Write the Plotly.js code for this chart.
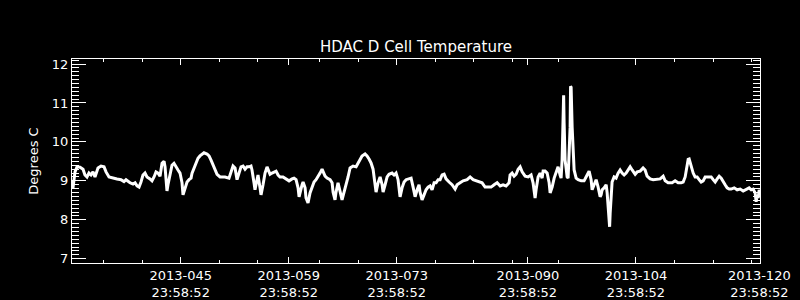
<!DOCTYPE html>
<html>
<head>
<meta charset="utf-8">
<script src="https://cdn.plot.ly/plotly-3.0.1.min.js"></script>
<style>html,body{margin:0;padding:0;background:#000;}</style>
</head>
<body>
<div id="chart" style="width:800px;height:300px;"></div>
<script>
// Day of year 2013 (fractional)
const days = [
30.91,31.04,31.30,31.56,31.95,32.34,32.59,32.85,33.11,33.37,33.63,33.89,34.28,34.67,35.06,35.32,35.71,36.22,36.74,37.26,
37.65,37.91,38.43,38.82,39.08,39.34,39.60,39.85,40.11,40.37,40.63,41.02,41.28,41.54,41.80,42.06,42.32,42.58,42.84,42.97,
43.10,43.22,43.35,43.61,43.87,44.13,44.39,44.65,44.91,45.17,45.30,45.56,45.82,46.08,46.34,46.47,46.72,46.98,47.24,47.50,
47.76,48.02,48.41,48.67,48.93,49.19,49.45,49.71,50.10,50.74,51.26,51.52,51.78,52.04,52.17,52.30,52.56,52.82,53.08,53.34,
53.60,53.86,54.11,54.24,54.50,54.63,54.89,55.02,55.28,55.41,55.67,55.93,56.19,56.32,56.58,56.84,57.10,57.36,57.62,57.87,
58.26,58.65,59.04,59.43,59.69,59.95,60.21,60.34,60.47,60.73,60.86,61.12,61.24,61.50,61.76,62.02,62.28,62.54,62.80,63.06,
63.32,63.45,63.71,63.97,64.36,64.62,64.75,65.00,65.13,65.39,65.65,65.91,66.17,66.43,66.69,66.95,67.34,67.73,67.99,68.25,
68.50,68.89,69.15,69.41,69.67,69.93,70.19,70.32,70.58,70.84,71.10,71.23,71.49,71.75,72.00,72.39,72.65,72.91,73.17,73.30,
73.43,73.69,73.95,74.21,74.60,74.86,75.12,75.38,75.64,75.89,76.02,76.28,76.54,76.80,77.06,77.32,77.58,77.84,78.10,78.36,
78.62,78.88,79.14,79.39,79.78,80.17,80.56,80.82,81.21,81.60,82.12,82.51,82.90,83.28,83.67,84.06,84.45,84.84,85.23,85.62,
86.01,86.40,86.78,87.17,87.56,87.69,87.95,88.21,88.47,88.73,88.99,89.25,89.64,90.03,90.41,90.67,90.80,90.93,91.06,91.32,
91.58,91.84,91.97,92.23,92.49,92.75,92.88,93.14,93.40,93.66,93.91,94.17,94.30,94.43,94.56,94.63,94.69,94.82,94.95,95.08,
95.21,95.34,95.47,95.53,95.60,95.73,95.86,95.99,96.25,96.51,96.90,97.28,97.54,97.80,97.93,98.19,98.32,98.58,98.84,99.10,
99.36,99.49,99.62,99.88,100.14,100.27,100.40,100.53,100.59,100.66,100.79,100.91,101.17,101.43,101.69,101.95,102.21,102.47,102.73,102.99,
103.25,103.51,103.90,104.16,104.55,104.93,105.19,105.45,105.84,106.23,106.75,107.14,107.53,107.79,108.17,108.69,109.08,109.47,109.86,110.12,
110.38,110.51,110.77,110.90,111.16,111.42,111.67,111.93,112.19,112.45,112.71,112.97,113.36,113.75,114.01,114.27,114.53,114.79,115.05,115.30,
115.56,115.82,116.08,116.34,116.73,117.12,117.51,117.90,118.29,118.67,118.94,119.19,119.45,119.58,119.71,119.84,119.97,120.08
];
// HDAC D cell temperature, degrees C
const tempC = [
9.00,8.82,9.23,9.36,9.35,9.30,9.15,9.10,9.20,9.15,9.23,9.10,9.33,9.38,9.36,9.23,9.10,9.07,9.05,9.03,
8.98,9.03,8.95,8.92,8.95,8.87,8.84,8.97,9.15,9.20,9.10,9.05,9.00,9.10,9.23,9.20,9.12,9.45,9.50,9.36,
9.10,8.74,8.90,9.15,9.40,9.45,9.35,9.28,9.20,8.95,8.64,8.82,8.97,9.03,9.07,9.20,9.33,9.48,9.58,9.64,
9.69,9.72,9.69,9.64,9.53,9.40,9.30,9.17,9.10,9.10,9.07,9.23,9.38,9.33,9.10,9.03,9.20,9.36,9.38,9.30,
9.36,9.36,9.38,9.28,8.95,8.77,9.03,9.15,8.82,8.64,8.90,9.20,9.36,9.28,9.17,9.20,9.23,9.25,9.15,9.10,
9.10,9.05,9.00,9.05,9.07,9.03,8.82,8.59,8.71,8.90,8.97,8.82,8.56,8.43,8.69,8.82,8.97,9.03,9.10,9.20,
9.30,9.25,9.12,9.07,9.03,8.95,8.71,8.51,8.71,8.95,8.71,8.51,8.71,8.95,9.10,9.33,9.38,9.36,9.46,9.58,
9.64,9.69,9.64,9.56,9.46,9.30,8.95,8.71,8.95,9.10,8.90,8.71,8.90,9.10,9.17,9.20,9.15,9.20,9.03,8.77,
8.59,8.82,8.97,9.03,9.05,9.07,8.84,8.59,8.77,8.90,8.71,8.51,8.64,8.77,8.84,8.87,8.77,8.95,8.95,9.03,
9.03,9.15,9.17,9.05,8.97,8.90,8.79,8.90,8.95,9.00,9.03,9.10,9.03,9.00,8.97,8.95,8.84,8.84,8.84,8.90,
8.95,8.87,8.90,8.87,8.95,9.15,9.20,9.12,9.17,9.30,9.36,9.23,9.12,9.10,9.15,8.95,8.64,8.56,8.77,9.10,
9.20,9.07,9.25,9.25,9.20,8.95,8.69,8.84,9.07,9.23,9.36,9.15,9.07,9.53,10.56,11.20,10.50,9.53,9.33,9.10,
9.07,9.87,10.38,11.43,11.40,10.38,9.53,9.28,9.07,9.03,9.00,9.00,9.10,9.23,9.25,9.03,8.77,8.90,9.03,8.84,
8.59,8.64,8.77,8.82,8.90,8.69,8.33,8.00,7.82,8.17,8.59,8.97,9.10,9.07,9.20,9.28,9.20,9.15,9.20,9.28,
9.36,9.28,9.17,9.23,9.25,9.33,9.28,9.12,9.05,9.03,9.05,9.05,9.12,9.00,8.95,8.95,9.00,8.95,8.95,8.97,
9.10,9.28,9.55,9.56,9.36,9.20,9.10,9.10,9.03,8.97,9.00,9.10,9.10,9.10,9.03,8.97,9.05,9.12,9.07,8.97,
8.90,8.82,8.79,8.79,8.82,8.77,8.79,8.74,8.79,8.82,8.77,8.79,8.69,8.46,8.64,8.56,8.77,8.69
];
const xTickVals = [45, 59, 73, 90, 104, 120];
const xTickText = ["2013-045<br>23:58:52", "2013-059<br>23:58:52", "2013-073<br>23:58:52",
                   "2013-090<br>23:58:52", "2013-104<br>23:58:52", "2013-120<br>23:58:52"];
const xMinorVals = [35, 40, 50, 55, 63, 68, 78, 83, 88, 94, 109, 114, 119];
const yTickVals = [7, 8, 9, 10, 11, 12];

const font = {family: "DejaVu Sans", size: 13, color: "#ffffff"};

const trace = {
  x: days, y: tempC, type: "scatter", mode: "lines",
  line: {color: "#ffffff", width: 3}, hoverinfo: "skip"
};

const layout = {
  width: 800, height: 300,
  paper_bgcolor: "#000000", plot_bgcolor: "#000000",
  margin: {l: 72, r: 40, t: 59, b: 37, pad: 0},
  showlegend: false,
  font: font,
  title: {text: "HDAC D Cell Temperature", font: {family: "DejaVu Sans", size: 15, color: "#ffffff"},
          xref: "paper", x: 0.5, xanchor: "center", yref: "container", y: 0.843, yanchor: "middle"},
  xaxis: {
    range: [30.91, 120.08], tickmode: "array", tickvals: xTickVals, ticktext: xTickText,
    ticks: "inside", ticklen: 6, tickwidth: 1, tickcolor: "#ffffff",
    showline: true, linecolor: "#ffffff", linewidth: 1, mirror: "allticks",
    showgrid: false, zeroline: false, tickfont: font, tickangle: 0,
    minor: {tickmode: "array", tickvals: xMinorVals, ticks: "inside", ticklen: 3, tickwidth: 1,
            tickcolor: "#ffffff", showgrid: false}
  },
  yaxis: {
    range: [6.89, 12.13], tickmode: "array", tickvals: yTickVals,
    ticks: "inside", ticklen: 14, tickwidth: 1, tickcolor: "#ffffff",
    showline: true, linecolor: "#ffffff", linewidth: 1, mirror: "allticks",
    showgrid: false, zeroline: false, tickfont: font,
    title: {text: "Degrees C", font: font, standoff: 10},
    minor: {dtick: 0.1, tick0: 7, ticks: "inside", ticklen: 7, tickwidth: 1,
            tickcolor: "#ffffff", showgrid: false}
  }
};

Plotly.newPlot("chart", [trace], layout, {displayModeBar: false, staticPlot: true});
</script>
</body>
</html>
